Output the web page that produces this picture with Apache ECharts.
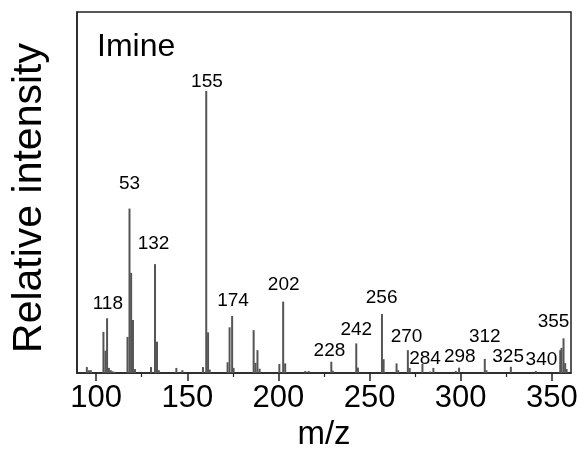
<!DOCTYPE html>
<html>
<head>
<meta charset="utf-8">
<script src="https://cdn.jsdelivr.net/npm/echarts@6/dist/echarts.min.js"></script>
<style>html,body{margin:0;padding:0;background:#fff;}#c{width:584px;height:450px;}</style>
</head>
<body>
<div id="c"></div>
<script>
// peak positions (m/z) and relative intensities
const peakMz = [94.9, 96.0, 97.1, 104.0, 105.1, 106.0, 107.0, 108.0, 109.0, 110.0,
  117.2, 118.3, 119.2, 120.2, 121.3, 130.1, 132.3, 133.4, 134.4, 144.0, 147.3,
  158.6, 160.4, 161.4, 162.3, 172.1, 173.2, 174.6, 175.4, 186.4, 187.4, 188.5, 189.7,
  200.5, 202.6, 203.7, 214.7, 216.6, 229.0, 229.8, 242.7, 243.6, 256.8, 257.7,
  264.8, 265.7, 271.0, 272.0, 279.0, 283.2, 285.0, 297.3, 299.1, 313.2, 314.1,
  327.5, 341.2, 354.6, 355.3, 356.4, 357.3, 358.1];
const peakInt = [2.1, 1.0, 1.0, 14.6, 7.9, 19.4, 1.8, 1.0, 0.6, 0.4,
  12.8, 58.3, 35.5, 18.8, 1.4, 2.1, 38.6, 11.1, 1.0, 1.8, 1.0,
  2.1, 100, 14.4, 1.2, 3.8, 16.2, 20.2, 1.8, 15.2, 3.6, 8.1, 1.5,
  3.2, 25.3, 3.4, 0.7, 0.7, 4.0, 0.8, 10.5, 1.9, 20.9, 4.9,
  3.4, 1.0, 8.1, 1.8, 3.2, 0.5, 1.8, 0.7, 1.9, 5.0, 1.0,
  2.2, 0.7, 8.1, 8.9, 12.3, 3.5, 1.4];
// peak annotations: text and anchor (m/z, intensity)
const labelText = ['118', '53', '155', '132', '174', '202', '228', '242', '256', '270', '284', '298', '312', '325', '340', '355'];
const labelMz =  [106.4, 118.3, 160.8, 131.5, 175.1, 202.9, 228.0, 242.7, 256.6, 270.3, 280.4, 299.5, 313.2, 326.0, 344.3, 350.9];
const labelInt = [24.7, 67.2, 103.2, 45.7, 25.6, 31.2, 7.8, 15.2, 26.8, 12.9, 5.2, 5.8, 12.9, 5.8, 4.6, 18.2];
const majorTicks = [100, 150, 200, 250, 300, 350];
const minorTicks = [125, 175, 225, 275, 325];
const title = 'Imine';
const yTitle = 'Relative intensity';

const FONT = 'Liberation Sans';
const chart = echarts.init(document.getElementById('c'), null, {renderer: 'canvas'});
chart.setOption({
  animation: false,
  backgroundColor: '#fff',
  title: {
    text: title, left: 92, top: 26,
    textStyle: {fontFamily: FONT, fontSize: 32, fontWeight: 'normal', color: '#000'}
  },
  graphic: [{
    type: 'text', x: 30, y: 198, rotation: Math.PI / 2,
    style: {text: yTitle, fontFamily: FONT, fontSize: 41, fill: '#000', align: 'center', verticalAlign: 'middle'}
  }],
  grid: {left: 77, top: 12, right: 13, bottom: 77, containLabel: false, outerBoundsMode: 'none',
    show: true, borderColor: '#222', borderWidth: 1.5, backgroundColor: 'transparent'},
  xAxis: [{
    type: 'value', min: 89.5, max: 360.5,
    name: 'm/z', nameLocation: 'middle', nameGap: 45,
    nameTextStyle: {fontFamily: FONT, fontSize: 33, color: '#000'},
    axisLine: {show: true, lineStyle: {color: '#222', width: 1.5}},
    axisTick: {show: true, customValues: majorTicks, length: 8, lineStyle: {color: '#222', width: 1.5}},
    axisLabel: {show: true, customValues: majorTicks, margin: 10, fontFamily: FONT, fontSize: 31, color: '#000'},
    splitLine: {show: false}
  }, {
    type: 'value', min: 89.5, max: 360.5, position: 'bottom',
    axisLine: {show: false},
    axisTick: {show: true, customValues: minorTicks, length: 4, lineStyle: {color: '#222', width: 1.2}},
    axisLabel: {show: false},
    splitLine: {show: false}
  }],
  yAxis: {
    type: 'value', min: 0, max: 128,
    axisLine: {show: true, lineStyle: {color: '#222', width: 1.5}},
    axisTick: {show: false}, axisLabel: {show: false}, splitLine: {show: false}
  },
  series: [{
    type: 'bar', xAxisIndex: 0,
    data: peakMz.map((m, i) => [m, peakInt[i]]),
    barWidth: 2,
    itemStyle: {color: '#555'},
    silent: true
  }, {
    type: 'scatter', xAxisIndex: 0,
    data: labelText.map((t, i) => [labelMz[i], labelInt[i], t]),
    symbolSize: 0,
    itemStyle: {opacity: 1},
    label: {
      show: true, position: 'inside', align: 'center', verticalAlign: 'middle',
      formatter: p => p.value[2],
      fontFamily: FONT, fontSize: 19, color: '#000', textBorderWidth: 0, opacity: 1
    },
    silent: true
  }]
});
</script>
</body>
</html>
